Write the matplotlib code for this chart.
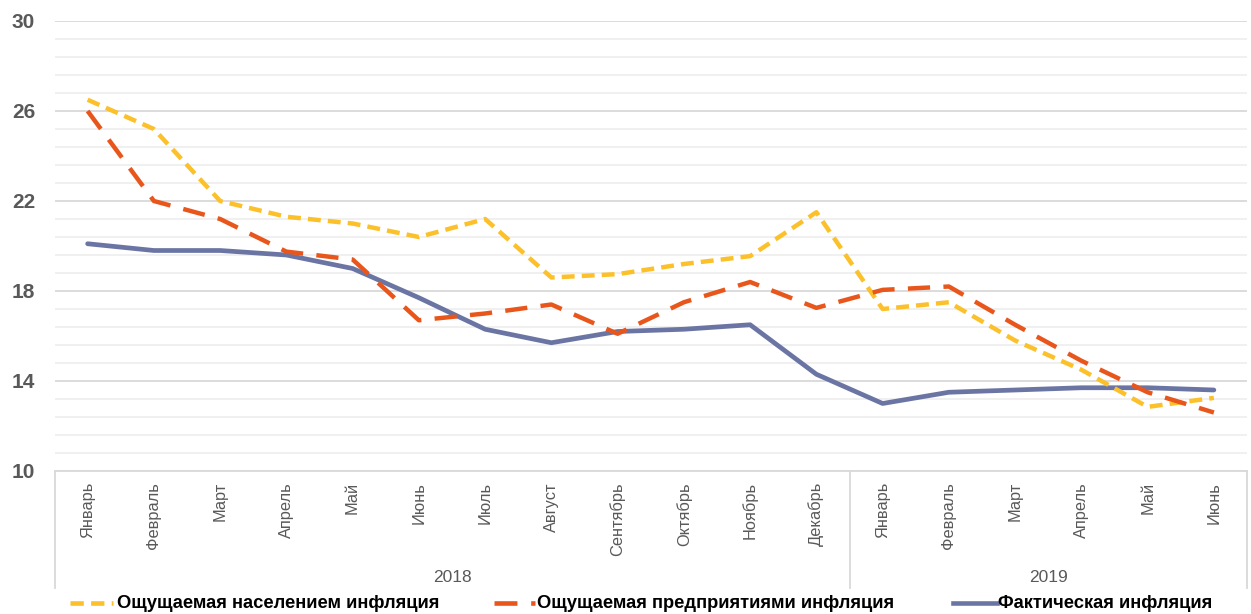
import matplotlib
matplotlib.use("Agg")
import matplotlib.pyplot as plt
import matplotlib.transforms as mtransforms
from matplotlib.lines import Line2D
import numpy as np

months = ["Январь", "Февраль", "Март", "Апрель", "Май", "Июнь", "Июль", "Август",
          "Сентябрь", "Октябрь", "Ноябрь", "Декабрь",
          "Январь", "Февраль", "Март", "Апрель", "Май", "Июнь"]
years = ["2018", "2019"]
year_counts = [12, 6]

population = [26.5, 25.2, 22.0, 21.3, 21.0, 20.4, 21.2, 18.6, 18.75, 19.2, 19.55, 21.5,
              17.2, 17.5, 15.8, 14.5, 12.85, 13.25]
enterprises = [26.0, 22.0, 21.2, 19.75, 19.4, 16.7, 17.0, 17.4, 16.1, 17.5, 18.4, 17.25,
               18.05, 18.2, 16.5, 14.9, 13.5, 12.6]
actual = [20.1, 19.8, 19.8, 19.6, 19.0, 17.7, 16.3, 15.7, 16.2, 16.3, 16.5, 14.3,
          13.0, 13.5, 13.6, 13.7, 13.7, 13.6]

series_names = ["Ощущаемая населением инфляция",
                "Ощущаемая предприятиями инфляция",
                "Фактическая инфляция"]
colors = ["#FCC12A", "#E8561C", "#6B75A3"]

plt.rcParams['font.family'] = ['Liberation Sans', 'DejaVu Sans']

W, H = 1251, 614
fig = plt.figure(figsize=(W / 100, H / 100), dpi=100)
left, right, top, bottom = 54.5, 1247, 21, 471
ax = fig.add_axes([left / W, 1 - bottom / H, (right - left) / W, (bottom - top) / H])

x = np.arange(len(months))

# gridlines
minor = np.arange(10, 30.01, 0.8)
for v in minor:
    major = abs((v - 10) / 4 - round((v - 10) / 4)) < 1e-6
    ax.axhline(v, color="#D9D9D9" if major else "#EFEFEF", lw=1.3, zorder=0)

ax.plot(x, population, color=colors[0], lw=3.2, dashes=(2.9, 1.6), dash_capstyle='butt',
        zorder=3)
ax.plot(x, enterprises, color=colors[1], lw=3.2, dashes=(5.0, 3.0), dash_capstyle='butt',
        zorder=4)
ax.plot(x, actual, color=colors[2], lw=3.4, solid_capstyle='round', zorder=2)

ax.set_xlim(-0.5, len(months) - 0.5)
ax.set_ylim(10, 30)
ax.set_yticks([10, 14, 18, 22, 26, 30])
ax.set_yticklabels(["10", "14", "18", "22", "26", "30"], fontsize=15, fontweight='bold',
                   color="#595959")
ax.tick_params(axis='y', length=0, pad=14)
ax.set_xticks(x)
ax.set_xticklabels(months, rotation=90, fontsize=11.8, color="#595959", va='top')
ax.tick_params(axis='x', length=0, pad=8)

for s in ["top", "right", "left"]:
    ax.spines[s].set_visible(False)
ax.spines["bottom"].set_color("#D9D9D9")
ax.spines["bottom"].set_linewidth(1.3)

# multi-level category separators and year labels
trans = mtransforms.blended_transform_factory(ax.transData, ax.transAxes)
sep_y = -(588 - 471) / (bottom - top)
edges = [-0.5]
for c in year_counts:
    edges.append(edges[-1] + c)
for e in edges:
    ax.add_line(Line2D([e, e], [0, sep_y], transform=trans, color="#D9D9D9", lw=1.3,
                       clip_on=False))
year_y = -(577 - 471) / (bottom - top)
for i, yr in enumerate(years):
    cx = (edges[i] + edges[i + 1]) / 2
    ax.text(cx, year_y, yr, transform=trans, ha='center', va='center', fontsize=12.5,
            color="#595959")

# legend
leg_y = 1 - 603 / H
line_spans = [(70, 113), (494, 535), (953, 997)]
text_x = [117, 537, 998]
styles = [dict(dashes=(2.9, 1.6)), dict(dashes=(5.0, 3.0)), dict()]
for (x0, x1), tx, name, col, st in zip(line_spans, text_x, series_names, colors, styles):
    fig.add_artist(Line2D([x0 / W, x1 / W], [leg_y, leg_y], transform=fig.transFigure,
                          color=col, lw=3.3, **st))
    fig.text(tx / W, leg_y, name, ha='left', va='center', fontsize=13.2, fontweight='bold',
             color="black")

fig.savefig("out.png", dpi=100)
